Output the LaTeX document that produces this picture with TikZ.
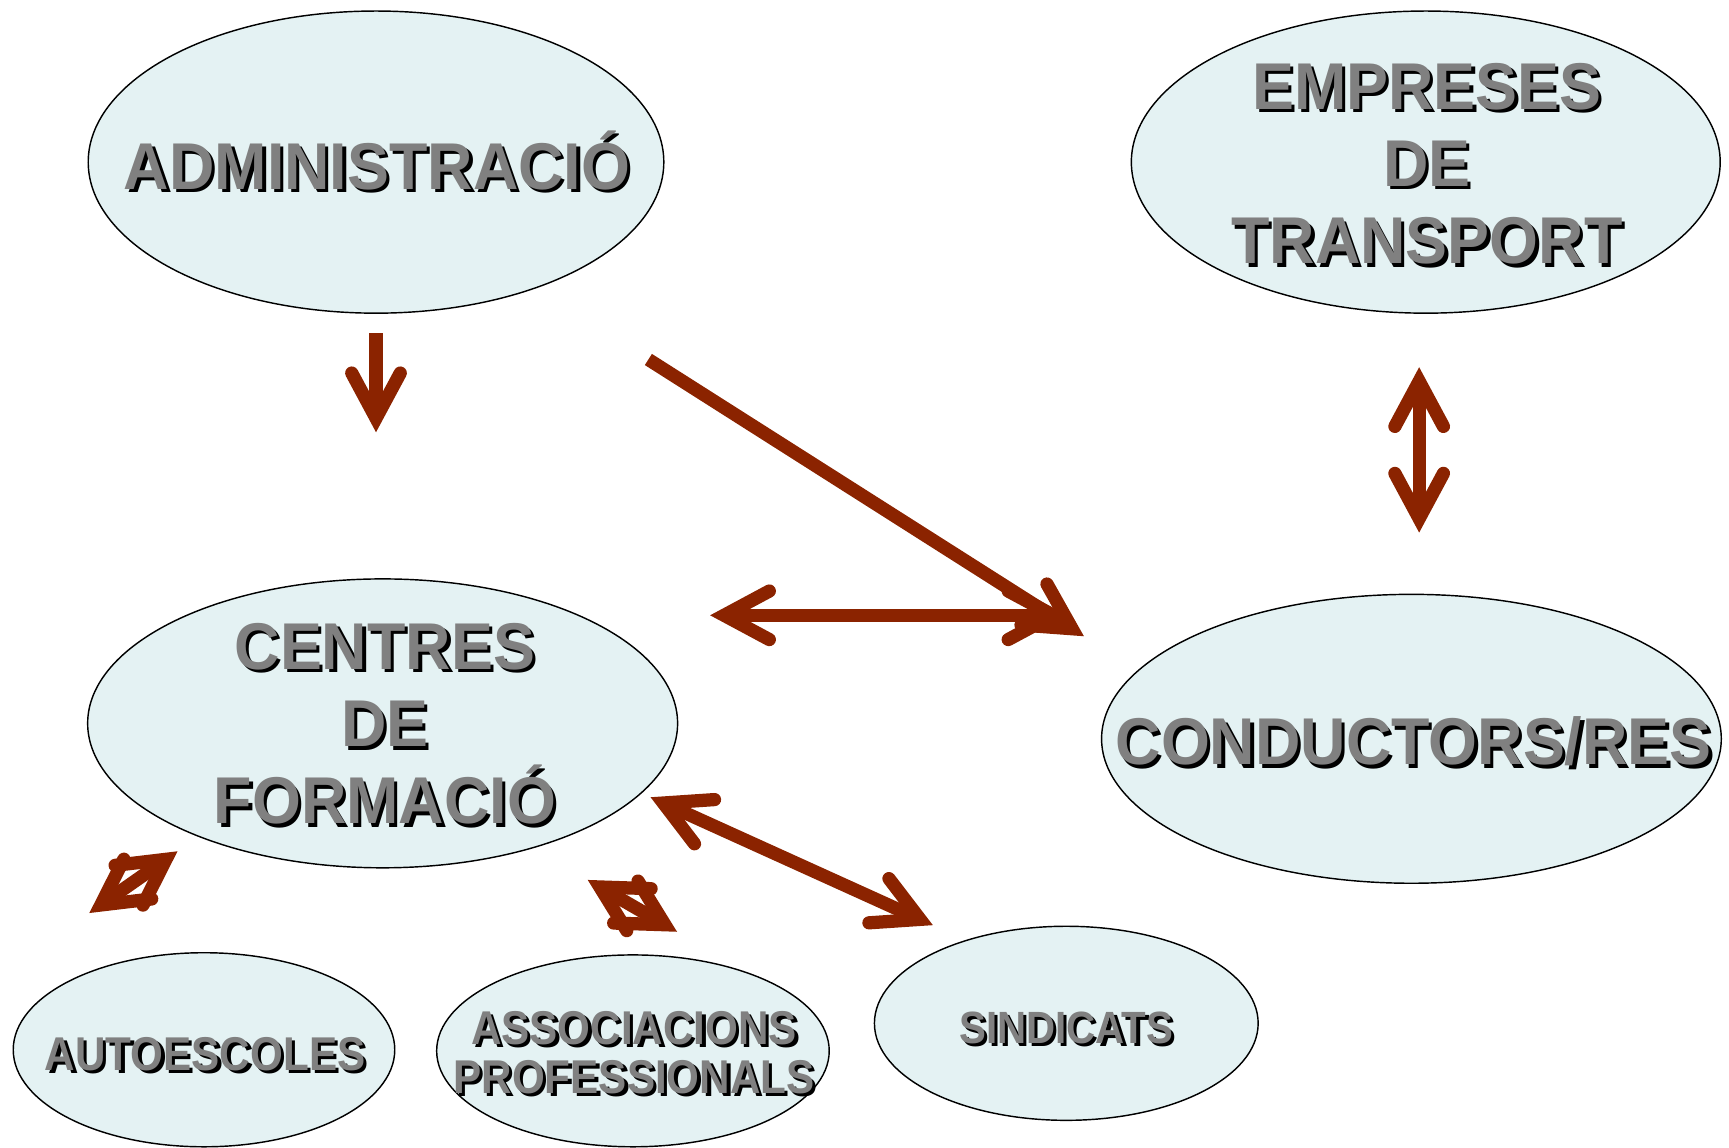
\documentclass[tikz,border=0pt]{standalone}
\usepackage{fontspec}
\usepackage{graphicx}
\setmainfont{Liberation Sans}
\usetikzlibrary{shapes.geometric,arrows.meta}
\definecolor{bubfill}{RGB}{228,242,243}
\definecolor{txtgray}{RGB}{128,128,128}
\definecolor{arrred}{RGB}{139,35,0}
\newcommand\shd[1]{\leavevmode\rlap{\kern3pt\raisebox{-3pt}{\color{black}#1}}{\color{txtgray}#1}}
\newcommand\bigt[1]{\shd{\scalebox{0.95}[1]{#1}}}
\newcommand\smlt[1]{\shd{\scalebox{0.89}[1]{#1}}}
\begin{document}
\begin{tikzpicture}[x=1pt,y=-1pt,
  bub/.style={ellipse, draw=black, line width=1.3pt, fill=bubfill, inner sep=0pt},
  bigtxt/.style={font=\fontsize{60}{70}\selectfont\bfseries, align=center, inner sep=0pt},
  smltxt/.style={font=\fontsize{43}{45}\selectfont\bfseries, align=center, inner sep=0pt},
  conn/.style={draw=arrred, line width=12pt},
  barb/.tip={Straight Barb[length=41pt,width=44pt,line cap=round,line join=miter]}
]
\useasboundingbox (0,0) rectangle (1568,1041);

% bubbles
\node[bub, minimum width=522pt, minimum height=274pt] (admin) at (341,147) {};
\node[bub, minimum width=534pt, minimum height=274pt] (emp) at (1293,147) {};
\node[bub, minimum width=535pt, minimum height=262pt] (cent) at (347,656) {};
\node[bub, minimum width=562pt, minimum height=262pt] (cond) at (1280,670) {};
\node[bub, minimum width=346pt, minimum height=176pt] (auto) at (185,952) {};
\node[bub, minimum width=356pt, minimum height=174pt] (assoc) at (574,953) {};
\node[bub, minimum width=348pt, minimum height=176pt] (sind) at (967,928) {};

% labels
\node[bigtxt, text height=43pt, text depth=0pt] (adminT) at (342,150) {\bigt{ADMINISTRACIÓ}};
\node[bigtxt] (empT) at (1294,150) {\bigt{EMPRESES}\\\bigt{DE}\\\bigt{TRANSPORT}};
\node[bigtxt] (centT) at (349,658) {\bigt{CENTRES}\\\bigt{DE}\\\bigt{FORMACIÓ}};
\node[bigtxt, text height=43pt, text depth=0pt] (condT) at (1282,672) {\bigt{CONDUCTORS/RES}};
\node[smltxt, text height=31pt, text depth=0pt] (autoT) at (186,955) {\smlt{AUTOESCOLES}};
\node[smltxt] (assocT) at (575,956) {\smlt{ASSOCIACIONS}\\\smlt{PROFESSIONALS}};
\node[smltxt, font=\fontsize{41}{45}\selectfont\bfseries, text height=30pt, text depth=0pt] (sindT) at (967,931) {\smlt{SINDICATS}};

% arrow end points
\coordinate (a1s) at (341,302);  \coordinate (a1e) at (341,392);
\coordinate (a2s) at (588,326);  \coordinate (a2e) at (983,577);
\coordinate (a3s) at (644,558);  \coordinate (a3e) at (968,558);
\coordinate (a4s) at (1287,333); \coordinate (a4e) at (1287,483);
\coordinate (a5s) at (590,723);  \coordinate (a5e) at (846,839);
\coordinate (a6s) at (161,772);  \coordinate (a6e) at (81,828);
\coordinate (a7s) at (533,798);  \coordinate (a7e) at (614,845);

% connectors
\draw[conn, -barb] (a1s) -- (a1e);
\draw[conn, barb-barb] (a3s) -- (a3e);
\draw[conn, -barb] (a2s) -- (a2e);
\draw[conn, barb-barb] (a4s) -- (a4e);
\draw[conn, barb-barb] (a5s) -- (a5e);
\draw[conn, barb-barb] (a6s) -- (a6e);
\draw[conn, barb-barb] (a7s) -- (a7e);
\end{tikzpicture}
\end{document}
